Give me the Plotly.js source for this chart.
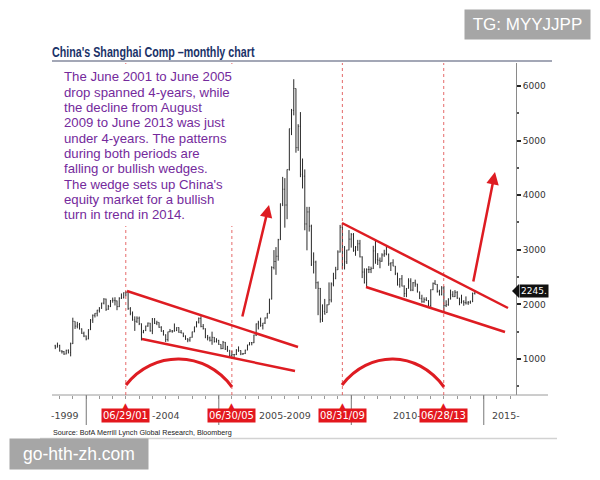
<!DOCTYPE html>
<html>
<head>
<meta charset="utf-8">
<script src="https://cdn.plot.ly/plotly-3.0.1.min.js"></script>
<style>html,body{margin:0;padding:0;background:#fff;}#chart{width:600px;height:480px;}</style>
</head>
<body>
<div id="chart"></div>
<script>
// Monthly Shanghai Composite, Oct 1998 .. Aug 2014 (month-end bars)
const startYear = 1998, startMonth = 10;
const opens = [
1240,1218,1248,
1145,1135,1090,1158,1120,1280,1689,1601,1627,1550,1470,1420,
1368,1535,1714,1800,1836,1894,1928,2023,2097,1910,1961,2070,
2073,2065,1959,2112,2119,2214,2218,1920,1834,1717,1690,1747,
1646,1490,1524,1603,1657,1515,1732,1652,1670,1581,1507,1442,
1357,1499,1511,1510,1521,1576,1487,1476,1421,1367,1348,1397,
1497,1590,1675,1742,1595,1555,1400,1386,1342,1396,1320,1340,
1266,1191,1306,1181,1159,1060,1080,1083,1162,1155,1092,1099,
1161,1258,1299,1298,1440,1642,1672,1612,1658,1752,1837,2099,
2675,2786,2881,3183,3841,4109,3820,4471,5218,5552,5954,4871,
5262,4383,4348,3473,3693,3433,2736,2775,2397,2293,1729,1871,
1849,1991,2082,2373,2477,2633,2959,3412,2667,2779,2996,3195,
3277,2989,3051,3110,2870,2592,2398,2638,2639,2655,2979,2820,
2808,2790,2905,2928,2911,2743,2762,2701,2568,2359,2468,2333,
2199,2292,2428,2262,2397,2373,2225,2103,2047,2086,2069,1980,
2269,2385,2366,2237,2178,2301,1979,1994,2098,2175,2142,2221,
2116,2033,2056,2033,2026,2039,2048,2201];
const highs = [
1260,1300,1260,
1160,1145,1170,1175,1300,1756,1690,1680,1660,1560,1500,1430,
1545,1730,1815,1840,1900,1950,2030,2114,2105,1990,2080,2125,
2131,2070,2130,2200,2220,2245,2220,1950,1870,1780,1780,1776,
1650,1530,1610,1668,1660,1750,1748,1700,1672,1600,1530,1450,
1500,1550,1530,1650,1580,1580,1530,1480,1430,1380,1400,1500,
1590,1690,1760,1783,1640,1560,1440,1410,1500,1400,1380,1350,
1270,1330,1310,1240,1160,1150,1090,1180,1230,1160,1110,1170,
1260,1306,1310,1445,1650,1700,1757,1660,1760,1840,2100,2698,
2994,3049,3200,3848,4335,4312,4472,5219,5580,6124,5955,5300,
5522,4672,4472,3786,3786,3460,2952,2800,2420,2300,2000,2100,
2000,2402,2402,2579,2688,2990,3455,3478,3068,3000,3361,3306,
3306,3068,3181,3181,2880,2660,2660,2700,2690,3073,3186,2939,
2858,2936,3000,3067,2932,2770,2826,2702,2580,2480,2537,2350,
2300,2478,2478,2409,2453,2376,2235,2176,2127,2131,2076,2275,
2400,2444,2370,2268,2335,2334,2075,2110,2270,2242,2261,2242,
2120,2177,2075,2146,2061,2070,2216,2248];
const lows = [
1180,1210,1135,
1100,1075,1085,1100,1048,1275,1550,1560,1540,1460,1400,1341,
1361,1530,1660,1760,1780,1850,1920,2000,1880,1900,1950,2030,
1980,1893,1950,2100,2110,2150,1900,1800,1700,1514,1660,1620,
1339,1470,1510,1590,1500,1455,1640,1620,1570,1500,1430,1311,
1320,1490,1480,1500,1510,1480,1470,1400,1350,1307,1316,1390,
1490,1580,1650,1580,1540,1380,1340,1320,1260,1300,1300,1259,
1177,1180,1165,1130,1040,998,1004,1070,1130,1070,1074,1090,
1160,1250,1250,1290,1420,1540,1590,1540,1640,1740,1830,2090,
2640,2541,2800,3180,3800,3405,3560,4450,5100,5462,4778,4812,
4330,4123,3357,2990,3333,2703,2566,2284,1802,1665,1678,1814,
1844,1990,2037,2330,2460,2630,2950,2639,2639,2740,2990,3039,
2963,2890,2980,2860,2481,2382,2319,2573,2573,2650,2744,2721,
2661,2780,2870,2900,2706,2611,2699,2536,2344,2307,2330,2134,
2132,2290,2242,2243,2322,2220,2100,2030,2029,2064,1959,1949,
2260,2360,2216,2161,2165,1849,1951,1975,2090,2133,2134,2101,
1984,2016,1974,1997,1991,2010,2043,2180];
const closes = [
1218,1248,1147,
1135,1090,1158,1120,1280,1689,1601,1627,1550,1470,1420,1367,
1535,1714,1800,1836,1894,1928,2023,2097,1910,1961,2070,2073,
2065,1959,2112,2119,2214,2218,1920,1834,1717,1690,1747,1646,
1490,1524,1603,1657,1515,1732,1652,1670,1581,1507,1442,1357,
1499,1511,1510,1521,1576,1487,1476,1421,1367,1348,1397,1497,
1590,1675,1742,1595,1555,1400,1386,1342,1396,1320,1340,1266,
1191,1306,1181,1159,1060,1080,1083,1162,1155,1092,1099,1161,
1258,1299,1298,1440,1642,1672,1612,1658,1752,1837,2099,2675,
2786,2881,3183,3841,4109,3820,4471,5218,5552,5954,4871,5262,
4383,4348,3473,3693,3433,2736,2775,2397,2293,1729,1871,1821,
1991,2082,2373,2477,2633,2959,3412,2667,2779,2996,3195,3277,
2989,3051,3110,2870,2592,2398,2638,2639,2655,2979,2820,2808,
2790,2905,2928,2911,2743,2762,2701,2568,2359,2468,2333,2199,
2292,2428,2262,2397,2373,2225,2103,2047,2086,2069,1980,2269,
2385,2366,2237,2178,2301,1979,1994,2098,2175,2142,2221,2116,
2033,2056,2033,2026,2039,2048,2201,2245];

const markDates  = ['2001-06-29','2005-06-30','2009-08-31','2013-06-28'];
const markLabels = ['06/29/01','06/30/05','08/31/09','06/28/13'];
const yearBreaks = ['2000-01-01','2005-01-01','2010-01-01','2015-01-01'];
const periodLabels = ['-1999','-2004','2005-2009','2010-','2015-'];
const lastPrice = '2245.';
const noteLines = [
 'The June 2001 to June 2005',
 'drop spanned 4-years, while',
 'the decline from August',
 '2009 to June 2013 was just',
 'under 4-years. The patterns',
 'during both periods are',
 'falling or bullish wedges.',
 "The wedge sets up China's",
 'equity market for a bullish',
 'turn in trend in 2014.'];

function pad(n){return (n<10?'0':'')+n;}
const dates = closes.map((_, i) => {
  const m0 = startMonth - 1 + i;
  const y = startYear + Math.floor(m0 / 12);
  const m = (m0 % 12) + 1;
  const last = new Date(Date.UTC(y, m, 0)).getUTCDate();
  return y + '-' + pad(m) + '-' + pad(last);
});

// pixel -> paper helpers (plot area 52..516 x 63..395)
const L = 52, R = 516, T = 63, B = 395;
const px = x => (x - L) / (R - L);
const py = y => (B - y) / (B - T);

const RED = 'rgb(222,28,34)';
const shapes = [];
const line = (x0,y0,x1,y1,color,w,dash) => shapes.push({type:'line',xref:'paper',yref:'paper',
  x0:px(x0),y0:py(y0),x1:px(x1),y1:py(y1),line:{color:color,width:w,dash:dash||'solid'}});
line(52,61,552,61,'#a3a7b6',2);
line(40,438.5,557,438.5,'#d2d2d2',1.5);
line(52,395,548,395,'#9a9a9a',1);
yearBreaks.forEach(d => shapes.push({type:'line',xref:'x',yref:'paper',x0:d,x1:d,y0:0,y1:py(425),
  line:{color:'#777',width:1}}));
markDates.forEach(d => shapes.push({type:'line',xref:'x',yref:'paper',x0:d,x1:d,y0:0,y1:1,
  line:{color:'rgba(225,80,80,0.85)',width:1,dash:'dot'}}));
// white backdrop behind the note text
shapes.push({type:'rect',xref:'paper',yref:'paper',layer:'above',x0:px(55),x1:px(238),y0:py(64),y1:py(226),
  fillcolor:'#fff',line:{width:0}});
// wedges
line(127,291,298,347,RED,2.5);
line(142,339,295,371,RED,2.5);
line(342,223,508,308,RED,2.5);
line(366,287,505,332,RED,2.5);
// arcs
function arc(x0,y0,x3,y3){
  const c1x = x0 + 27, c2x = x3 - 27, cy = Math.min(y0,y3) - 35;
  return 'M '+px(x0)+','+py(y0)+' C '+px(c1x)+','+py(cy)+' '+px(c2x)+','+py(cy)+' '+px(x3)+','+py(y3);
}
shapes.push({type:'path',xref:'paper',yref:'paper',path:arc(126,385,232,387),line:{color:RED,width:3}});
shapes.push({type:'path',xref:'paper',yref:'paper',path:arc(342,385,444,387),line:{color:RED,width:3}});
// last price pointer
shapes.push({type:'path',xref:'paper',yref:'paper',fillcolor:'#111',line:{width:0},
  path:'M '+px(512)+','+py(291)+' L '+px(519)+','+py(284)+' L '+px(519)+','+py(298)+' Z'});

const ann = [];
noteLines.forEach((t, i) => ann.push({xref:'paper',yref:'paper',x:px(62),y:py(77 + i*15.3),
  xanchor:'left',yanchor:'middle',showarrow:false,text:t,
  font:{family:'Liberation Sans, Arial, sans-serif',size:13.2,color:'#742a9c'}}));
ann.push({xref:'paper',yref:'paper',x:px(51),y:py(432),xanchor:'left',yanchor:'middle',showarrow:false,
  text:'Source: BofA Merrill Lynch Global Research, Bloomberg',
  font:{family:'Liberation Sans, Arial, sans-serif',size:7.2,color:'#222'}});
// period labels
const plPos = [[81,'right'],[150,'left'],[257,'left'],[391,'left'],[490,'left']];
periodLabels.forEach((t,i) => ann.push({xref:'paper',yref:'paper',x:px(plPos[i][0]),y:py(416),
  xanchor:plPos[i][1],yanchor:'middle',showarrow:false,text:t,
  font:{family:'DejaVu Sans, sans-serif',size:9.5,color:'#444'}}));
// red date flags
markDates.forEach((d,i) => {
  ann.push({xref:'x',yref:'paper',x:d,y:py(415.5),xanchor:'center',yanchor:'middle',showarrow:false,
    text:markLabels[i],bgcolor:'#e3171d',borderpad:1,
    font:{family:'DejaVu Sans, sans-serif',size:10,color:'#fff'}});
  ann.push({xref:'x',yref:'paper',x:d,y:py(405.5),xanchor:'center',yanchor:'middle',showarrow:false,
    text:'\u25B2',font:{family:'DejaVu Sans, sans-serif',size:9,color:'#e3171d'}});
});
// last price tag
ann.push({xref:'paper',yref:'paper',x:px(519),y:py(291),xanchor:'left',yanchor:'middle',showarrow:false,
  text:lastPrice,bgcolor:'#111',borderpad:1,font:{family:'DejaVu Sans, sans-serif',size:9,color:'#fff'}});
// arrows
ann.push({xref:'paper',yref:'paper',x:px(269),y:py(205),ax:242-269,ay:318-205,text:'',showarrow:true,
  arrowhead:2,arrowsize:1,arrowwidth:2.5,arrowcolor:RED,standoff:0});
ann.push({xref:'paper',yref:'paper',x:px(495),y:py(172),ax:473-495,ay:283-172,text:'',showarrow:true,
  arrowhead:2,arrowsize:1,arrowwidth:2.5,arrowcolor:RED,standoff:0});
// watermarks
ann.push({xref:'paper',yref:'paper',x:px(527.5),y:py(24.5),xanchor:'center',yanchor:'middle',showarrow:false,
  text:'TG: MYYJJPP',bgcolor:'#a6a6a6',width:125,height:29,borderpad:0,
  font:{family:'Liberation Sans, Arial, sans-serif',size:17,color:'#fff'}});
ann.push({xref:'paper',yref:'paper',x:px(79),y:py(454),xanchor:'center',yanchor:'middle',showarrow:false,
  text:'go-hth-zh.com',bgcolor:'#a6a6a6',width:138,height:30,borderpad:0,
  font:{family:'Liberation Sans, Arial, sans-serif',size:17.5,color:'#fff'}});

const trace = {type:'ohlc',x:dates,open:opens,high:highs,low:lows,close:closes,
  increasing:{line:{color:'#2a2a2a',width:1}},decreasing:{line:{color:'#2a2a2a',width:1}},
  tickwidth:0.3,hoverinfo:'skip'};

const layout = {
  width:600,height:480,autosize:false,
  margin:{l:L,r:600-R,t:T,b:480-B,pad:0},
  paper_bgcolor:'#fff',plot_bgcolor:'#fff',showlegend:false,
  title:{text:"<b>China's Shanghai Comp \u2013monthly chart</b>",xref:'container',yref:'container',
    x:52/600,xanchor:'left',y:1-52/480,yanchor:'middle',
    font:{family:'Liberation Sans, Arial, sans-serif',size:14,color:'#1a3268'}},
  xaxis:{type:'date',range:['1998-09-16','2016-03-20'],showticklabels:false,ticks:'outside',
    tick0:'2000-01-01',dtick:'M6',ticklen:3,tickcolor:'#999',showgrid:false,zeroline:false,showline:false,
    rangeslider:{visible:false},fixedrange:true},
  yaxis:{side:'right',range:[340,6421],tickmode:'linear',tick0:0,dtick:1000,ticks:'outside',ticklen:4,
    tickwidth:2,tickcolor:'#222',showline:true,linecolor:'#8a8a8a',linewidth:1,showgrid:false,zeroline:false,
    tickfont:{family:'DejaVu Sans, sans-serif',size:9,color:'#333'},
    minor:{tick0:0,dtick:500,ticks:'outside',ticklen:2,tickwidth:2,tickcolor:'#555'},fixedrange:true},
  shapes:shapes,annotations:ann
};
Plotly.newPlot('chart',[trace],layout,{staticPlot:true,displayModeBar:false}).then(() => {
  // narrow the title horizontally to match the condensed face of the original
  const t = document.querySelector('.gtitle');
  if (t) {
    const bb = t.getBBox();
    const s = 203 / bb.width;
    t.setAttribute('transform', 'translate(' + bb.x + ',0) scale(' + s + ',1) translate(' + (-bb.x) + ',0)');
  }
});
</script>
</body>
</html>
